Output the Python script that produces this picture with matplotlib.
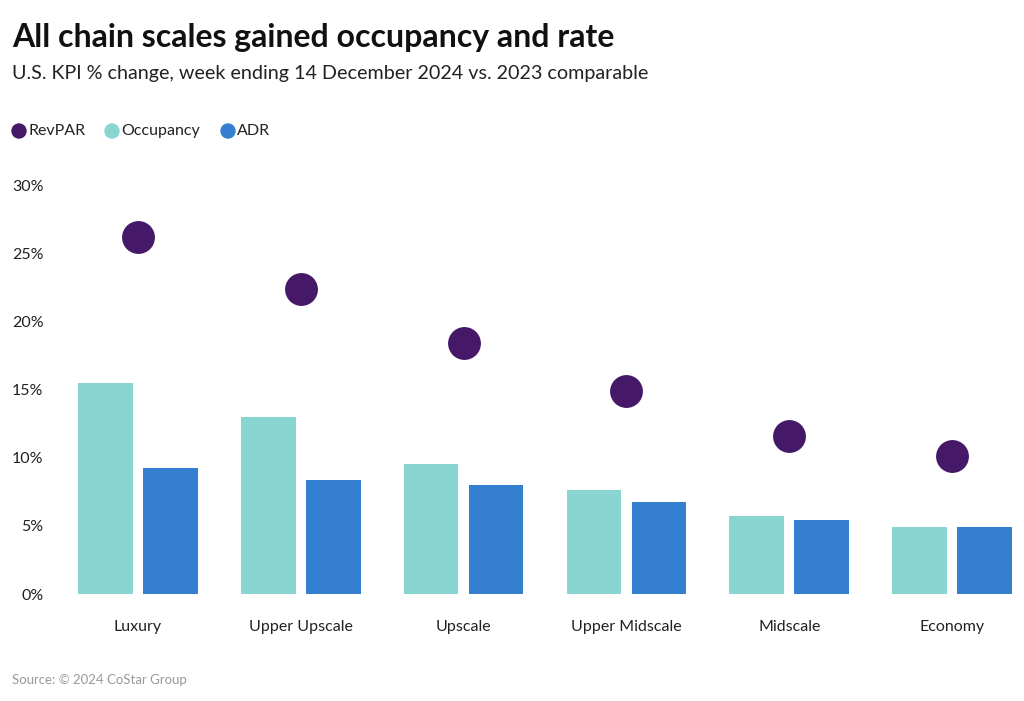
import matplotlib
matplotlib.use("Agg")
import matplotlib.pyplot as plt
from matplotlib.ticker import FuncFormatter
import numpy as np

categories = ["Luxury", "Upper Upscale", "Upscale", "Upper Midscale", "Midscale", "Economy"]
revpar = [26.2, 22.4, 18.4, 14.9, 11.6, 10.1]
occupancy = [15.5, 13.0, 9.55, 7.65, 5.75, 4.9]
adr = [9.25, 8.35, 8.0, 6.75, 5.4, 4.9]
yticks = [0, 5, 10, 15, 20, 25, 30]

C_REV = "#461868"
C_OCC = "#89d5d2"
C_ADR = "#347fcf"

plt.rcParams['font.family'] = ['Lato', 'DejaVu Sans']

W, H = 1024, 701
fig = plt.figure(figsize=(W / 100, H / 100), dpi=100)
left_px, right_px = 60, 1020
bottom_px, top_px = 594, 185
ax = fig.add_axes([left_px / W, (H - bottom_px) / H, (right_px - left_px) / W, (bottom_px - top_px) / H])

x = np.arange(len(categories))
ax.bar(x - 0.2, occupancy, width=0.335, color=C_OCC, zorder=2)
ax.bar(x + 0.2, adr, width=0.335, color=C_ADR, zorder=2)
ax.scatter(x, revpar, s=560, color=C_REV, zorder=3, clip_on=False, linewidths=0)

scale = (952 - 138) / 5
ax.set_xlim(-(138 - left_px) / scale, 5 + (right_px - 952) / scale)
ax.set_ylim(0, 30)
ax.set_yticks(yticks)
ax.yaxis.set_major_formatter(FuncFormatter(lambda v, p: f"{int(v)}%"))
ax.set_xticks(x)
ax.set_xticklabels(categories)
for s in ax.spines.values():
    s.set_visible(False)
ax.tick_params(axis='both', length=0, labelsize=11.5, colors="#222222")
ax.tick_params(axis='x', pad=19)
ax.tick_params(axis='y', pad=12)

fig.text(12 / W, 1 - 38 / H, "All chain scales gained occupancy and rate", fontsize=23, fontweight='bold',
         va='center', ha='left', color="#111111")
fig.text(12 / W, 1 - 73 / H, "U.S. KPI % change, week ending 14 December 2024 vs. 2023 comparable", fontsize=14.2,
         va='center', ha='left', color="#222222")

# legend
leg_y = 1 - 131 / H
items = [("RevPAR", C_REV, 19), ("Occupancy", C_OCC, 112), ("ADR", C_ADR, 228)]
for label, col, px in items:
    fig.patches.append(matplotlib.patches.Ellipse((px / W, leg_y), 14 / W, 14 / H, transform=fig.transFigure,
                                                  color=col, figure=fig))
    fig.text((px + 9) / W, leg_y, label, fontsize=11.5, va='center', ha='left', color="#222222")

fig.text(12 / W, 1 - 680 / H, "Source: © 2024 CoStar Group", fontsize=9.5, va='center', ha='left', color="#999999")

fig.savefig("out.png", dpi=100, facecolor="white")
